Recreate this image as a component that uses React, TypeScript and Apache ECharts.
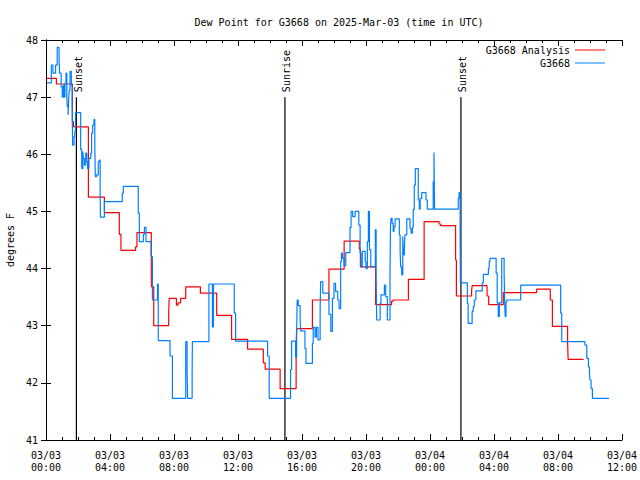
import React, { useEffect, useRef } from "react";
import * as echarts from "echarts";

// minutes after 2025-03-03 00:00 UTC
const analysisTimes = [3, 39, 99, 103, 159, 219, 275, 281, 336, 341, 395, 404, 460, 462, 489, 495, 505, 524, 579, 640, 696, 756, 815, 822, 878, 938, 940, 999, 1061, 1118, 1175, 1179, 1236, 1296, 1302, 1359, 1418, 1474, 1480, 1536, 1539, 1596, 1598, 1654, 1660, 1715, 1840, 1891, 1899, 1956, 1958, 2016];
const analysisValues = [47.33, 47.23, 46.57, 46.48, 45.25, 44.98, 44.6, 44.32, 44.38, 44.63, 43.68, 43.0, 43.24, 43.48, 43.36, 43.4, 43.48, 43.68, 43.57, 43.18, 42.76, 42.59, 42.35, 42.24, 41.9, 42.68, 42.95, 43.45, 43.99, 44.48, 44.34, 44.03, 43.37, 43.43, 43.45, 43.81, 44.82, 44.78, 44.75, 44.15, 43.52, 43.61, 43.7, 43.52, 43.37, 43.58, 43.64, 43.45, 42.99, 42.7, 42.41, 42.41];

const stationTimes = [3, 20, 26, 36, 42, 49, 51, 57, 61, 65, 68, 71, 75, 78, 80, 83, 85, 87, 90, 95, 98, 100, 105, 108, 111, 130, 134, 138, 140, 144, 149, 153, 156, 161, 168, 171, 175, 180, 183, 185, 190, 196, 200, 203, 204, 219, 286, 290, 346, 350, 365, 369, 375, 394, 399, 418, 421, 465, 474, 524, 529, 531, 548, 549, 611, 624, 628, 706, 711, 831, 837, 917, 921, 936, 940, 942, 946, 953, 955, 971, 975, 999, 1002, 1009, 1014, 1020, 1028, 1030, 1038, 1061, 1068, 1074, 1080, 1086, 1094, 1099, 1105, 1108, 1112, 1118, 1124, 1140, 1144, 1150, 1159, 1173, 1178, 1181, 1186, 1197, 1200, 1205, 1209, 1213, 1218, 1235, 1238, 1240, 1253, 1256, 1269, 1274, 1280, 1290, 1292, 1294, 1298, 1302, 1305, 1309, 1325, 1328, 1330, 1334, 1338, 1340, 1344, 1346, 1353, 1365, 1369, 1374, 1377, 1381, 1385, 1396, 1400, 1403, 1409, 1425, 1430, 1452, 1455, 1457, 1546, 1549, 1553, 1554, 1580, 1583, 1598, 1602, 1606, 1612, 1636, 1640, 1659, 1662, 1665, 1688, 1692, 1696, 1700, 1709, 1718, 1720, 1722, 1725, 1728, 1780, 1930, 1934, 2021, 2028, 2034, 2038, 2040, 2044, 2049, 2111];
const stationValues = [47.25, 47.56, 47.42, 47.56, 47.87, 47.66, 47.42, 47.18, 47.0, 47.21, 47.0, 47.24, 47.42, 47.0, 46.83, 46.69, 46.98, 47.12, 47.45, 47.21, 46.83, 46.16, 46.31, 46.4, 46.73, 46.08, 45.75, 46.05, 45.93, 45.81, 46.02, 45.87, 45.75, 45.93, 46.02, 46.37, 46.51, 46.61, 46.13, 45.61, 45.64, 45.87, 45.9, 45.37, 44.9, 45.17, 45.32, 45.44, 44.97, 44.47, 44.6, 44.72, 44.47, 44.21, 43.45, 43.73, 42.74, 42.47, 41.73, 42.72, 42.22, 41.73, 42.22, 42.72, 43.73, 42.98, 43.73, 43.22, 42.73, 42.47, 41.73, 42.23, 42.73, 42.45, 42.93, 43.45, 43.35, 43.1, 42.91, 42.6, 42.34, 42.69, 42.97, 42.8, 42.97, 42.75, 43.28, 43.77, 43.57, 43.2, 42.9, 43.48, 43.74, 43.6, 43.45, 43.3, 44.12, 44.27, 44.18, 44.05, 44.28, 44.72, 45.0, 44.91, 45.0, 44.76, 44.27, 44.03, 44.3, 44.12, 44.0, 44.47, 45.0, 44.33, 44.03, 44.68, 43.89, 43.1, 43.39, 43.54, 43.71, 43.51, 43.1, 43.89, 44.76, 44.88, 44.79, 44.65, 44.73, 44.87, 44.59, 44.3, 44.03, 43.89, 44.56, 44.24, 44.38, 44.59, 44.87, 44.7, 44.62, 44.72, 45.03, 45.46, 45.75, 45.2, 45.04, 45.23, 45.33, 45.2, 45.04, 45.52, 46.03, 45.04, 45.23, 45.33, 44.56, 43.75, 43.39, 43.04, 43.25, 43.33, 43.45, 43.61, 43.75, 43.9, 44.0, 44.12, 44.18, 43.92, 43.4, 43.16, 43.4, 44.18, 43.92, 43.4, 43.16, 43.42, 43.45, 43.71, 43.22, 42.72, 42.66, 42.43, 42.28, 42.17, 42.05, 41.9, 41.73, 41.73];

const eventNames = ["Sunset", "Sunrise", "Sunset"];
const eventTimes = [114, 896, 1556];
const eventBottom = 41;
const eventTop = 47;

const FONT = "DejaVu Sans Mono";

export default function App() {
  const ref = useRef<HTMLDivElement>(null);
  useEffect(() => {
    if (!ref.current) return;
    const chart = echarts.init(ref.current, null, { renderer: "svg" });
    const zip = (t: number[], v: number[]) => t.map((x, i) => [x, v[i]]);
    const fmt = (m: number) => {
      const day = 3 + Math.floor(m / 1440);
      const h = Math.floor((m % 1440) / 60);
      return `03/${String(day).padStart(2, "0")}\n${String(h).padStart(2, "0")}:00`;
    };
    const eventSeries = eventNames.map((name, i) => ({
      type: "line",
      name: "ev" + i,
      xAxisIndex: 0,
      yAxisIndex: 0,
      symbol: "circle",
      symbolSize: 0,
      showSymbol: true,
      lineStyle: { color: "#000", width: 1.2 },
      itemStyle: { color: "#000" },
      silent: true,
      data: [
        [eventTimes[i], eventBottom],
        {
          value: [eventTimes[i], eventTop],
          label: {
            show: true,
            formatter: name,
            rotate: 90,
            position: [2, -5],
            align: "left",
            verticalAlign: "middle",
            color: "#000",
            fontFamily: FONT,
            fontSize: 10,
          },
        },
      ],
      z: 1,
    }));
    const axisLine = { show: true, lineStyle: { color: "#000", width: 1 } };
    chart.setOption({
      animation: false,
      backgroundColor: "#fff",
      title: {
        text: "Dew Point for G3668 on 2025-Mar-03 (time in UTC)",
        left: 334,
        top: 12,
        textAlign: "center",
        textStyle: { fontFamily: FONT, fontSize: 10, fontWeight: "normal", color: "#000" },
      },
      legend: {
        data: [
          { name: "G3668 Analysis", icon: "rect" },
          { name: "G3668", icon: "rect" },
        ],
        orient: "vertical",
        align: "right",
        right: 30,
        top: 39,
        itemWidth: 30,
        itemHeight: 1,
        itemGap: 1,
        textStyle: { fontFamily: FONT, fontSize: 10, color: "#000", lineHeight: 12 },
      },
      grid: { left: 46, right: 18, top: 40, bottom: 40, outerBoundsMode: "none", containLabel: false },
      xAxis: [
        {
          type: "value",
          min: 0,
          max: 2160,
          interval: 240,
          position: "bottom",
          axisLine,
          axisTick: { show: true, inside: true, length: 6, lineStyle: { color: "#000" } },
          minorTick: { show: true, splitNumber: 4, length: 3, lineStyle: { color: "#000" } },
          splitLine: { show: false },
          axisLabel: {
            formatter: fmt,
            fontFamily: FONT,
            fontSize: 10,
            color: "#000",
            margin: 9,
            lineHeight: 12,
            showMinLabel: true,
            showMaxLabel: true,
          },
        },
        {
          type: "value",
          min: 0,
          max: 2160,
          interval: 240,
          position: "top",
          axisLine,
          axisTick: { show: true, inside: true, length: 6, lineStyle: { color: "#000" } },
          minorTick: { show: true, splitNumber: 4, length: 3, lineStyle: { color: "#000" } },
          splitLine: { show: false },
          axisLabel: { show: false },
        },
      ],
      yAxis: [
        {
          type: "value",
          min: 41,
          max: 48,
          interval: 1,
          position: "left",
          name: "degrees F",
          nameLocation: "middle",
          nameGap: 30,
          nameTextStyle: { fontFamily: FONT, fontSize: 10, color: "#000" },
          axisLine,
          axisTick: { show: true, inside: true, length: 5, lineStyle: { color: "#000" } },
          splitLine: { show: false },
          axisLabel: { fontFamily: FONT, fontSize: 10, color: "#000", margin: 8 },
        },
        {
          type: "value",
          min: 41,
          max: 48,
          interval: 1,
          position: "right",
          axisLine,
          axisTick: { show: true, inside: true, length: 5, lineStyle: { color: "#000" } },
          splitLine: { show: false },
          axisLabel: { show: false },
        },
      ],
      series: [
        ...eventSeries,
        {
          type: "line",
          name: "G3668 Analysis",
          step: "end",
          symbol: "none",
          lineStyle: { color: "#ff0000", width: 1.2 },
          itemStyle: { color: "#ff0000" },
          data: zip(analysisTimes, analysisValues),
          z: 2,
        },
        {
          type: "line",
          name: "G3668",
          step: "end",
          symbol: "none",
          lineStyle: { color: "#0080ff", width: 1.2 },
          itemStyle: { color: "#0080ff" },
          data: zip(stationTimes, stationValues),
          z: 3,
        },
      ],
    });
    return () => chart.dispose();
  }, []);
  return <div ref={ref} style={{ width: 640, height: 480, position: "absolute", left: 0, top: 0 }} />;
}
